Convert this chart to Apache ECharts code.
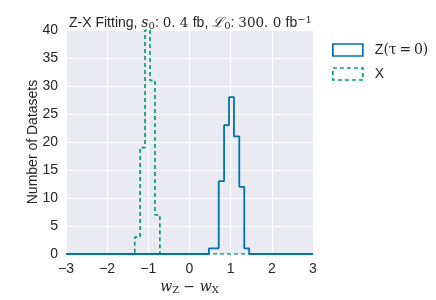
<!DOCTYPE html>
<html><head><meta charset="utf-8">
<script src="https://cdn.jsdelivr.net/npm/echarts@6/dist/echarts.min.js"></script>
<style>html,body{margin:0;padding:0;background:#fff}#c{width:436px;height:300px}</style>
</head><body><div id="c"></div>
<script>
// Data (step style)
var zEdges = [0.47, 0.59, 0.71, 0.84, 0.96, 1.08, 1.21, 1.33, 1.45];
var zCounts = [1, 1, 13, 23, 28, 21, 12, 1];
var xEdges = [-1.33, -1.20, -1.08, -0.96, -0.84, -0.72];
var xCounts = [3, 19, 40, 31, 7];
var xTicks = [-3, -2, -1, 0, 1, 2, 3];
var yTicks = [0, 5, 10, 15, 20, 25, 30, 35, 40];
var seriesNames = ['Z(\u03c4=0)', 'X'];

function stepData(edges, counts) {
  var d = [[xTicks[0], 0]];
  for (var i = 0; i < counts.length; i++) d.push([edges[i], counts[i]]);
  d.push([edges[edges.length - 1], 0]);
  d.push([xTicks[xTicks.length - 1], 0]);
  return d;
}
var blue = '#0072b2', green = '#009e73';
var chart = echarts.init(document.getElementById('c'));
var sans = 'Liberation Sans, Arial, sans-serif';
var serif = 'DejaVu Serif, serif';
var tc = '#262626';
chart.setOption({
  backgroundColor: '#ffffff',
  animation: false,
  title: {
    left: 64, top: 10,
    text: '{a|Z-X Fitting, }{i|s}{sub|0}{a|: }{m|0. 4 }{a|fb, }{l|\u2112}{sub|0}{a|: }{m|300. 0 }{a|fb}{sup|\u22121}',
    textStyle: {
      fontWeight: 'normal',
      rich: {
        a: {fontFamily: sans, fontSize: 14, fontWeight: 'normal', color: tc},
        i: {fontFamily: serif, fontStyle: 'italic', fontWeight: 'normal', fontSize: 14, color: tc},
        m: {fontFamily: serif, fontSize: 13.5, fontWeight: 'normal', color: tc},
        l: {fontFamily: serif, fontStyle: 'italic', fontWeight: 'normal', fontSize: 14, color: tc},
        sub: {fontFamily: serif, fontSize: 10, fontWeight: 'normal', color: tc, verticalAlign: 'bottom', padding: [6, 0, 0, 0]},
        sup: {fontFamily: serif, fontSize: 10, fontWeight: 'normal', color: tc, verticalAlign: 'top', padding: [0, 0, 6, 0]}
      }
    }
  },
  legend: {
    left: 327, top: 38, orient: 'vertical',
    itemWidth: 30, itemHeight: 12, itemGap: 10,
    formatter: function (n) {
      return n === 'X' ? '{a|X}' : '{a|Z}{m|(\u03c4\u2009=\u20090)}';
    },
    textStyle: {fontFamily: sans, fontSize: 14, color: tc, padding: [0, 0, 0, 7],
      rich: {
        a: {fontFamily: sans, fontSize: 14, color: tc},
        m: {fontFamily: serif, fontSize: 14, color: tc}
      }},
    data: [
      {name: seriesNames[0], icon: 'rect', itemStyle: {color: 'rgba(0,0,0,0)', borderColor: blue, borderWidth: 1.7}},
      {name: seriesNames[1], icon: 'rect', itemStyle: {color: 'rgba(0,0,0,0)', borderColor: green, borderWidth: 1.7, borderType: [4, 3]}}
    ]
  },
  grid: {left: 66, right: 123, top: 30, bottom: 46, show: true, backgroundColor: '#eaeaf2', borderWidth: 0,
    containLabel: false, outerBoundsMode: 'none'},
  xAxis: {
    type: 'value', min: -3, max: 3, interval: 1,
    axisLine: {show: false}, axisTick: {show: false},
    splitLine: {lineStyle: {color: '#ffffff', width: 1}},
    axisLabel: {fontFamily: sans, fontSize: 14, color: tc, margin: 8,
      formatter: function (v) { return String(v).replace('-', '\u2212'); }},
    name: '{i|w}{sub|Z}{m| \u2212 }{i|w}{sub|X}', nameLocation: 'middle', nameGap: 25,
    nameMoveOverlap: false,
    nameTextStyle: {
      rich: {
        i: {fontFamily: serif, fontStyle: 'italic', fontSize: 14, color: tc},
        m: {fontFamily: serif, fontSize: 14, color: tc},
        sub: {fontFamily: serif, fontSize: 10, color: tc, verticalAlign: 'bottom', padding: [6, 0, 0, 0]}
      }
    }
  },
  yAxis: {
    type: 'value', min: 0, max: 40, interval: 5,
    axisLine: {show: false}, axisTick: {show: false},
    splitLine: {lineStyle: {color: '#ffffff', width: 1}},
    axisLabel: {fontFamily: sans, fontSize: 14, color: tc, margin: 8},
    name: 'Number of Datasets', nameLocation: 'middle', nameGap: 26,
    nameMoveOverlap: false,
    nameTextStyle: {fontFamily: sans, fontSize: 14, color: tc}
  },
  series: [
    {name: seriesNames[1], type: 'line', step: 'end', symbol: 'none', z: 2,
     itemStyle: {color: green},
     lineStyle: {color: green, width: 1.7, type: [4, 3]},
     data: stepData(xEdges, xCounts)},
    {name: seriesNames[0], type: 'line', step: 'end', symbol: 'none', z: 3,
     itemStyle: {color: blue},
     lineStyle: {color: blue, width: 1.8},
     data: stepData(zEdges, zCounts)}
  ]
});
</script></body></html>
